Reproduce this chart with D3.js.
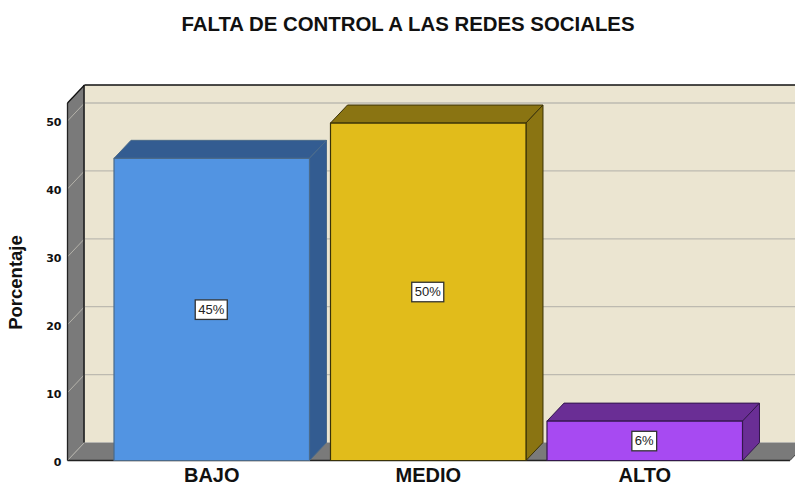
<!DOCTYPE html>
<html><head><meta charset="utf-8">
<script src="https://cdn.jsdelivr.net/npm/d3@7/dist/d3.min.js"></script>
<style>html,body{margin:0;padding:0;background:#fff}svg{display:block}</style>
</head><body><svg id="c" width="795" height="487"></svg>
<script>
const categories = ["BAJO","MEDIO","ALTO"];
const values = [44.5,49.7,5.8];
const labels = ["45%","50%","6%"];
const frontColors = ["#5294e2","#e1bc1b","#a74af2"];
const darkColors = ["#335c91","#8a7412","#6a2e95"];
const strokeColors = ["#4a6a8a","#3a3208","#33174d"];
const yTicks = [0,10,20,30,40,50];
const titleText = "FALTA DE CONTROL A LAS REDES SOCIALES";
const yTitle = "Porcentaje";

const W=795,H=487, dx=17, dy=-18, x0=67.5, x1=790, y0=460.5, yTop=103;
const svg=d3.select("#c");
const font="'Liberation Sans',Arial,sans-serif";
const y=d3.scaleLinear().domain([0,52.65]).range([y0,yTop]);
const x=d3.scaleBand().domain(categories).range([93,763.5]).padding(0.097);
const poly=(pts,fill,stroke,sw)=>svg.append("polygon").attr("points",pts.map(p=>p.join(",")).join(" "))
  .attr("fill",fill).attr("stroke",stroke||"none").attr("stroke-width",sw||0).attr("stroke-linejoin","round");
const line=(a,b,c,w)=>svg.append("line").attr("x1",a[0]).attr("y1",a[1]).attr("x2",b[0]).attr("y2",b[1]).attr("stroke",c).attr("stroke-width",w);

// walls
poly([[x0+dx,yTop+dy],[x1+dx,yTop+dy],[x1+dx,y0+dy],[x0+dx,y0+dy]],"#ebe5d1");
poly([[x0,yTop],[x0+dx,yTop+dy],[x0+dx,y0+dy],[x0,y0]],"#7a7a7a");
poly([[x0,y0],[x0+dx,y0+dy],[x1+dx,y0+dy],[x1,y0]],"#7a7a7a");

// grid
yTicks.slice(1).forEach(t=>{
  line([x0,y(t)],[x0+dx,y(t)+dy],"#b4b2aa",1);
  line([x0+dx,y(t)+dy],[x1+dx,y(t)+dy],"#bdbab0",1.3);
});
line([x0,y(0)],[x0+dx,y(0)+dy],"#b4b2aa",1);

// frame
line([x0+dx,yTop+dy],[x1+dx,yTop+dy],"#111",1.4);
line([x0+dx-0.5,yTop+dy],[x0+dx-0.5,y0+dy],"#222",1.6);
line([x0,yTop],[x0+dx,yTop+dy],"#111",1.3);
line([x0,yTop],[x0,y0],"#222",1.3);
line([x0,y0],[x1,y0],"#222",1.4);
line([x1,y0],[x1+dx,y0+dy],"#444",1);

// bars
categories.forEach((c,i)=>{
  const l=x(c), r=l+x.bandwidth(), t=y(values[i]), s=strokeColors[i];
  poly([[l,t],[l+dx,t+dy],[r+dx,t+dy],[r,t]],darkColors[i],s,1);
  poly([[r,t],[r+dx,t+dy],[r+dx,y0+dy],[r,y0]],darkColors[i],s,1);
  poly([[l,t],[r,t],[r,y0],[l,y0]],frontColors[i],s,1.2);
});

// value labels
categories.forEach((c,i)=>{
  const cx=x(c)+x.bandwidth()/2-0.5, cy=(y(values[i])+y0)/2;
  const g=svg.append("g");
  const rct=g.append("rect").attr("fill","#fff").attr("stroke","#333").attr("stroke-width",1.3);
  const tx=g.append("text").text(labels[i]).attr("x",cx).attr("y",cy+4.5).attr("text-anchor","middle")
    .attr("font-family",font).attr("font-size",13).attr("fill","#222");
  const w=tx.node().getComputedTextLength()+6;
  rct.attr("x",cx-w/2).attr("y",cy-9.5).attr("width",w).attr("height",19.5);
});

// axes
const ay=d3.axisLeft(y).tickValues(yTicks).tickSize(0).tickPadding(0).tickFormat(d3.format("d"));
const gy=svg.append("g").attr("transform","translate(61.5,1)").call(ay);
gy.select(".domain").remove();
gy.selectAll("text").attr("font-family","'DejaVu Sans',sans-serif").attr("font-weight","bold").attr("font-size",11).attr("fill","#111");

const ax=d3.axisBottom(x).tickSize(0).tickPadding(0);
const gx=svg.append("g").attr("transform","translate(0,"+(y0+7.5)+")").call(ax);
gx.select(".domain").remove();
gx.selectAll("text").attr("font-family",font).attr("font-weight","bold").attr("font-size",20).attr("fill","#111");

svg.append("text").text(titleText).attr("x",408).attr("y",31).attr("text-anchor","middle")
  .attr("font-family",font).attr("font-weight","bold").attr("font-size",20.4).attr("fill","#111");
svg.append("text").text(yTitle).attr("transform","translate(22,282.5) rotate(-90)").attr("text-anchor","middle")
  .attr("font-family",font).attr("font-weight","bold").attr("font-size",18.5).attr("fill","#111");
</script></body></html>
